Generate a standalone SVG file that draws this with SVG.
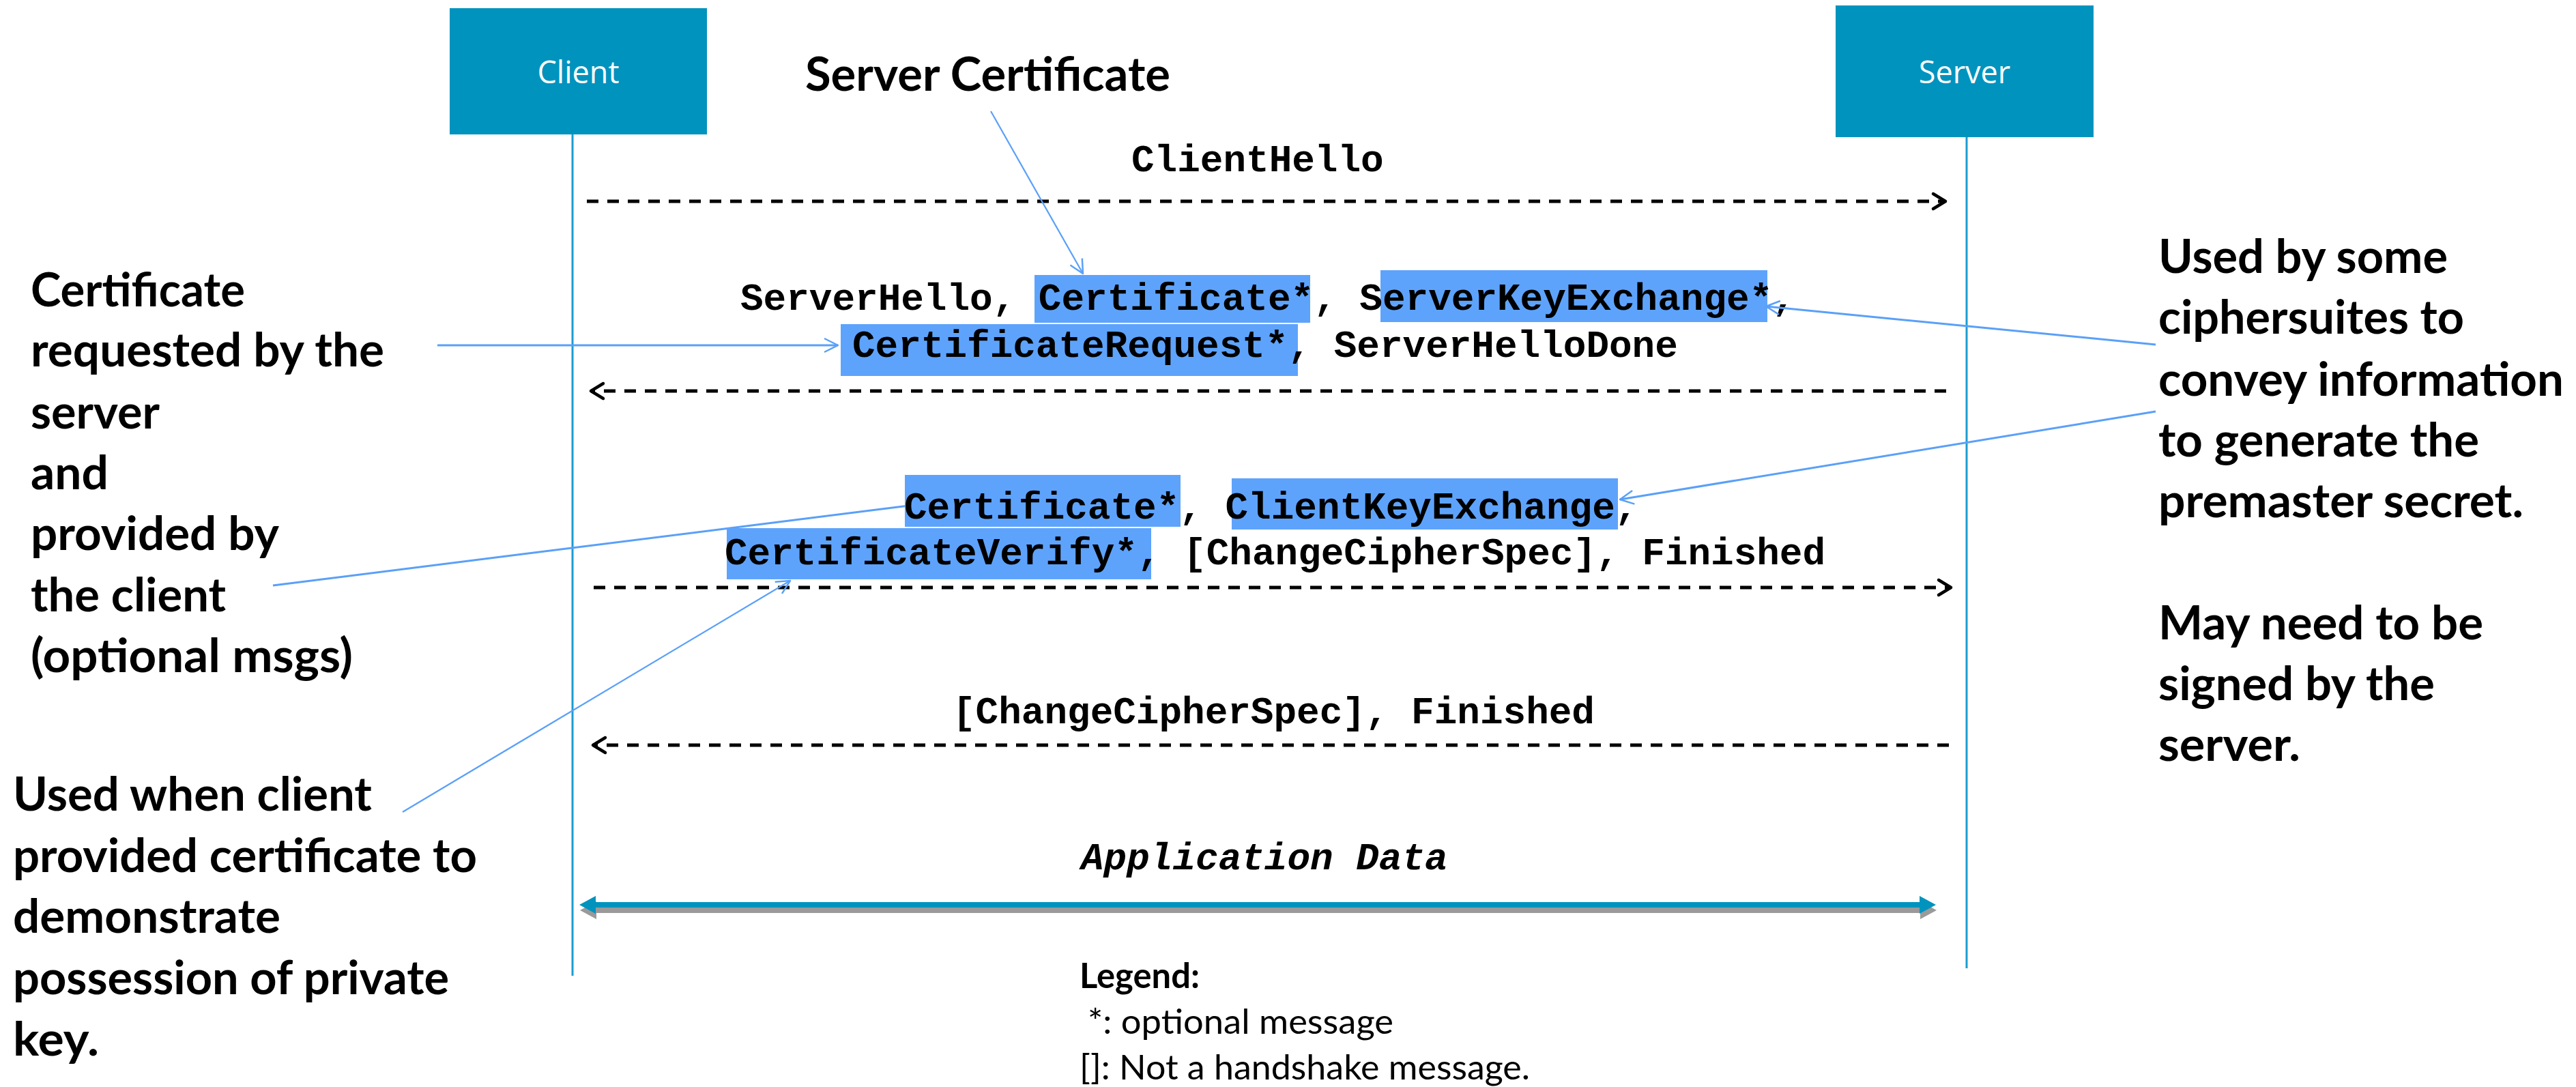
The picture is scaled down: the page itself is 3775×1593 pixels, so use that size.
<svg xmlns="http://www.w3.org/2000/svg" width="3775" height="1593" viewBox="0 0 3775 1593">
  <style>
    .actor { fill: #0093be; }
    .actor-label { font-family: "Open Sans", "Noto Sans", sans-serif; font-size: 45px; fill: #ffffff; text-anchor: middle; }
    .lifeline { stroke: #1b9dd0; stroke-width: 3; fill: none; }
    .msg { font-family: "Liberation Mono", "DejaVu Sans Mono", monospace; font-size: 56px; font-weight: bold; fill: #000; }
    .msg-it { font-style: italic; }
    .dash { stroke: #000; stroke-width: 5; stroke-dasharray: 17 13; fill: none; }
    .hl { fill: #5ea3fb; }
    .note { font-family: Lato, "Open Sans", sans-serif; font-size: 68px; font-weight: bold; fill: #000; }
    .legend { font-family: Lato, "Open Sans", sans-serif; font-size: 51px; fill: #000; }
    .pointer { stroke: #5aa0f8; stroke-width: 3; fill: none; }
    .pointer-thin { stroke-width: 2.2; }
  </style>
  <defs>
    <marker id="chev" markerUnits="userSpaceOnUse" viewBox="-25 -15 30 30" markerWidth="30" markerHeight="30" refX="0" refY="0" orient="auto">
      <path d="M-18,-11 L0,0 L-18,11" fill="none" stroke="#000" stroke-width="4.5" stroke-dasharray="none" stroke-linejoin="round" stroke-linecap="round"/>
    </marker>
    <marker id="vhead" markerUnits="userSpaceOnUse" viewBox="-30 -20 40 40" markerWidth="40" markerHeight="40" refX="0" refY="0" orient="auto">
      <path d="M-20,-10 L0,0 L-20,10" fill="none" stroke="#5aa0f8" stroke-width="2.5" stroke-linejoin="round"/>
    </marker>
    <path id="appArrow" d="M849,1326 L873,1313 L873,1322 L2813,1322 L2813,1313 L2837,1326 L2813,1339 L2813,1330 L873,1330 L873,1339 Z"/>
  </defs>

  <rect width="3775" height="1593" fill="#ffffff"/>

  <!-- participants -->
  <g id="node-client">
    <rect class="actor" x="659" y="12" width="377" height="185"/>
    <text class="actor-label" x="847.5" y="122">Client</text>
    <line class="lifeline" x1="839" y1="197" x2="839" y2="1430"/>
  </g>
  <g id="node-server">
    <rect class="actor" x="2690" y="8" width="378" height="193"/>
    <text class="actor-label" x="2879" y="122">Server</text>
    <line class="lifeline" x1="2882" y1="201" x2="2882" y2="1419"/>
  </g>

  <!-- handshake message arrows -->
  <g id="connectors">
    <line class="dash" x1="860" y1="295" x2="2851" y2="295" marker-end="url(#chev)"/>
    <line class="dash" x1="2852" y1="573" x2="866" y2="573" marker-end="url(#chev)"/>
    <line class="dash" x1="870" y1="861" x2="2859" y2="861" marker-end="url(#chev)"/>
    <line class="dash" x1="2856" y1="1092" x2="869" y2="1092" marker-end="url(#chev)"/>
    <g id="app-data-arrow">
      <use href="#appArrow" fill="#9a9a9a" transform="translate(1,8)"/>
      <use href="#appArrow" fill="#0093be"/>
    </g>
    <!-- callout running under the client Certificate* highlight -->
    <line class="pointer" x1="400" y1="858" x2="1340" y2="740"/>
  </g>

  <!-- highlighted optional messages -->
  <g id="highlights">
    <rect class="hl" x="1516" y="403" width="404" height="70"/>
    <rect class="hl" x="2023" y="396" width="567" height="76"/>
    <rect class="hl" x="1232" y="475" width="670" height="76"/>
    <rect class="hl" x="1326" y="696" width="404" height="76"/>
    <rect class="hl" x="1805" y="701" width="566" height="75"/>
    <rect class="hl" x="1065" y="774" width="622" height="75"/>
  </g>

  <!-- message labels -->
  <g id="messages">
    <text class="msg" x="1658" y="251">ClientHello</text>
    <text class="msg" x="1085" y="454">ServerHello, Certificate*, ServerKeyExchange*,</text>
    <text class="msg" x="1249" y="523">CertificateRequest*, ServerHelloDone</text>
    <text class="msg" x="1325" y="760">Certificate*, ClientKeyExchange,</text>
    <text class="msg" x="1062" y="827">CertificateVerify*, [ChangeCipherSpec], Finished</text>
    <text class="msg" x="1396" y="1060">[ChangeCipherSpec], Finished</text>
    <text class="msg msg-it" x="1584" y="1274">Application Data</text>
  </g>

  <!-- annotation callouts -->
  <g id="note-server-cert">
    <text class="note" x="1180" y="133" textLength="535" lengthAdjust="spacingAndGlyphs">Server Certificate</text>
    <line class="pointer pointer-thin" x1="1452" y1="163" x2="1587" y2="401" marker-end="url(#vhead)"/>
  </g>

  <g id="note-cert-request">
    <text class="note" x="45" y="449" textLength="314" lengthAdjust="spacingAndGlyphs">Certificate</text>
    <text class="note" x="45" y="537" textLength="518" lengthAdjust="spacingAndGlyphs">requested by the</text>
    <text class="note" x="45" y="628" textLength="189" lengthAdjust="spacingAndGlyphs">server</text>
    <text class="note" x="45" y="717" textLength="114" lengthAdjust="spacingAndGlyphs">and</text>
    <text class="note" x="45" y="806" textLength="364" lengthAdjust="spacingAndGlyphs">provided by</text>
    <text class="note" x="45" y="896" textLength="286" lengthAdjust="spacingAndGlyphs">the client</text>
    <text class="note" x="45" y="985" textLength="472" lengthAdjust="spacingAndGlyphs">(optional msgs)</text>
    <line class="pointer" x1="641" y1="506" x2="1228" y2="506" marker-end="url(#vhead)"/>
  </g>

  <g id="note-key-exchange">
    <text class="note" x="3163" y="400" textLength="424" lengthAdjust="spacingAndGlyphs">Used by some</text>
    <text class="note" x="3163" y="489" textLength="448" lengthAdjust="spacingAndGlyphs">ciphersuites to</text>
    <text class="note" x="3163" y="580" textLength="594" lengthAdjust="spacingAndGlyphs">convey information</text>
    <text class="note" x="3163" y="669" textLength="470" lengthAdjust="spacingAndGlyphs">to generate the</text>
    <text class="note" x="3163" y="758" textLength="535" lengthAdjust="spacingAndGlyphs">premaster secret.</text>
    <text class="note" x="3163" y="937" textLength="476" lengthAdjust="spacingAndGlyphs">May need to be</text>
    <text class="note" x="3163" y="1026" textLength="405" lengthAdjust="spacingAndGlyphs">signed by the</text>
    <text class="note" x="3163" y="1115" textLength="208" lengthAdjust="spacingAndGlyphs">server.</text>
    <line class="pointer" x1="3159" y1="505" x2="2588" y2="449" marker-end="url(#vhead)"/>
    <line class="pointer" x1="3159" y1="603" x2="2374" y2="732" marker-end="url(#vhead)"/>
  </g>

  <g id="note-cert-verify">
    <text class="note" x="19" y="1188" textLength="526" lengthAdjust="spacingAndGlyphs">Used when client</text>
    <text class="note" x="19" y="1278" textLength="680" lengthAdjust="spacingAndGlyphs">provided certificate to</text>
    <text class="note" x="19" y="1367" textLength="392" lengthAdjust="spacingAndGlyphs">demonstrate</text>
    <text class="note" x="19" y="1457" textLength="639" lengthAdjust="spacingAndGlyphs">possession of private</text>
    <text class="note" x="19" y="1547" textLength="126" lengthAdjust="spacingAndGlyphs">key.</text>
    <line class="pointer pointer-thin" x1="590" y1="1190" x2="1158" y2="851" marker-end="url(#vhead)"/>
  </g>

  <g id="legend">
    <text class="legend" x="1582" y="1448" font-weight="bold" textLength="176" lengthAdjust="spacingAndGlyphs">Legend:</text>
    <text class="legend" x="1594" y="1515" textLength="448" lengthAdjust="spacingAndGlyphs">*: optional message</text>
    <text class="legend" x="1582" y="1582" textLength="660" lengthAdjust="spacingAndGlyphs">[]: Not a handshake message.</text>
  </g>
</svg>
